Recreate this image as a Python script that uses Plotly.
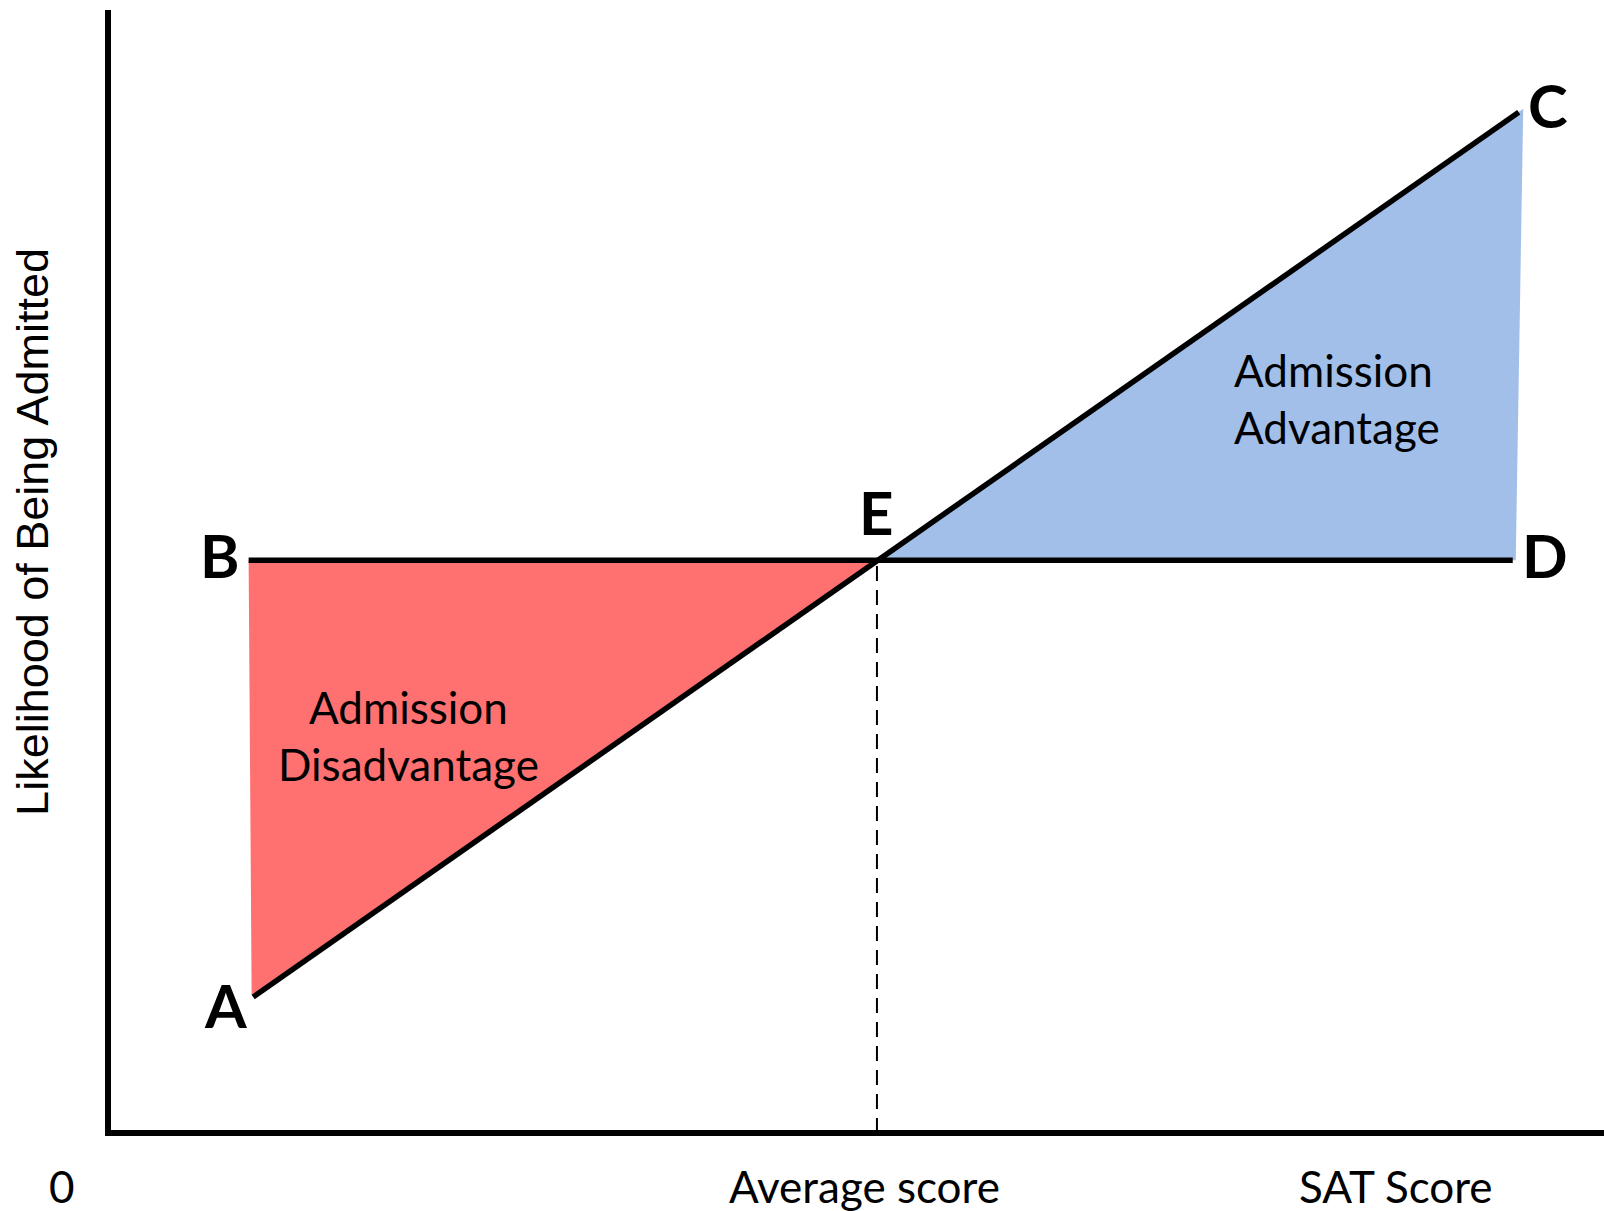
import plotly.graph_objects as go

# ---- data (normalized SAT score on x, likelihood on y; axes run 0..100) ----
point_labels = ["A", "B", "C", "D", "E"]
point_x = [9.7, 9.4, 94.3, 93.9, 51.4]
point_y = [12.1, 51.0, 90.9, 51.0, 51.0]

# shaded regions
disadv_x = [9.4, 51.4, 9.6, 9.4]
disadv_y = [51.0, 51.0, 12.3, 51.0]
adv_x = [51.4, 94.6, 94.1, 51.4]
adv_y = [51.0, 91.2, 51.0, 51.0]

region_labels = ["Admission<br>Disadvantage", "Admission<br>Advantage"]
region_x = [20.1, 75.1]
region_y = [35.4, 65.4]

tick_labels = ["0", "Average score", "SAT Score"]
tick_x = [-3.1, 50.6, 86.1]
axis_title_y = "Likelihood of Being Admitted"

P = dict(zip(point_labels, zip(point_x, point_y)))

fig = go.Figure()

# fills
fig.add_trace(go.Scatter(x=disadv_x, y=disadv_y, fill="toself", fillcolor="#FF7070",
                         line=dict(width=0), mode="lines", hoverinfo="skip"))
fig.add_trace(go.Scatter(x=adv_x, y=adv_y, fill="toself", fillcolor="#A2BFEA",
                         line=dict(width=0), mode="lines", hoverinfo="skip"))

# dashed drop line from E
fig.add_trace(go.Scatter(x=[P["E"][0], P["E"][0]], y=[0, P["E"][1]], mode="lines",
                         line=dict(color="black", width=2, dash="15px,9px")))

# horizontal B-D line and diagonal A-C line
fig.add_trace(go.Scatter(x=[P["B"][0], P["D"][0]], y=[P["B"][1], P["D"][1]], mode="lines",
                         line=dict(color="black", width=5.5)))
fig.add_trace(go.Scatter(x=[P["A"][0], P["C"][0]], y=[P["A"][1], P["C"][1]], mode="lines",
                         line=dict(color="black", width=5.5)))

# axes lines
fig.add_trace(go.Scatter(x=[0, 0, 101], y=[100, 0, 0], mode="lines",
                         line=dict(color="black", width=6)))

# point labels
shifts = {"A": (-28, -8), "B": (-29, 5), "C": (29, 7), "D": (32, 5), "E": (0, 48)}
for lab in point_labels:
    x, y = P[lab]
    dx, dy = shifts[lab]
    fig.add_annotation(x=x, y=y, text=lab, showarrow=False, xshift=dx, yshift=dy,
                       font=dict(family="Lato", size=60, color="black", weight="bold"))

# region labels
fig.add_annotation(x=region_x[0], y=region_y[0], text=region_labels[0], showarrow=False,
                   xanchor="center", align="center",
                   font=dict(family="Lato", size=44, color="black"))
fig.add_annotation(x=region_x[1], y=region_y[1], text=region_labels[1], showarrow=False,
                   xanchor="left", align="left",
                   font=dict(family="Lato", size=44, color="black"))

# tick-like labels below the x axis
for t, x in zip(tick_labels, tick_x):
    fig.add_annotation(x=x, y=-4.7, text=t, showarrow=False, xanchor="center", yanchor="middle",
                       font=dict(family="Lato", size=44, color="black"))

# y axis title
fig.add_annotation(x=-5.1, y=53.5, text=axis_title_y, showarrow=False, textangle=-90,
                   font=dict(family="Liberation Sans", size=45, color="black"))

fig.update_layout(
    width=1604, height=1211,
    margin=dict(l=0, r=0, t=0, b=0),
    paper_bgcolor="white", plot_bgcolor="white",
    showlegend=False,
    xaxis=dict(range=[-7.22, 100], visible=False, fixedrange=True),
    yaxis=dict(range=[-6.95, 100.89], visible=False, fixedrange=True),
)

fig.write_html("out.html", config={"displayModeBar": False},
               post_script="document.body.style.margin='0';document.body.style.overflow='hidden';")
